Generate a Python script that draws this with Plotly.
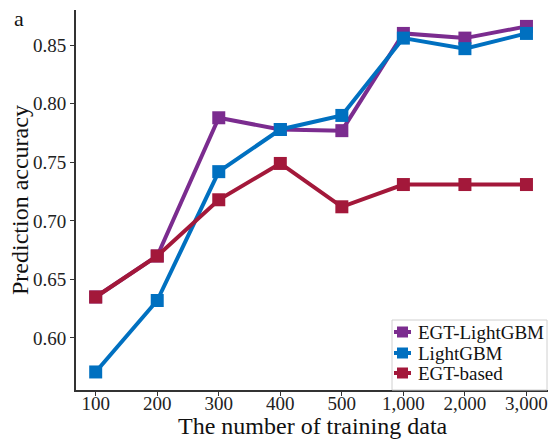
import plotly.graph_objects as go

categories = ["100", "200", "300", "400", "500", "1,000", "2,000", "3,000"]
egt_lightgbm = [0.635, 0.670, 0.788, 0.778, 0.777, 0.860, 0.856, 0.866]
lightgbm = [0.571, 0.632, 0.742, 0.778, 0.790, 0.856, 0.847, 0.860]
egt_based = [0.635, 0.670, 0.718, 0.749, 0.712, 0.731, 0.731, 0.731]

series = [
    ("EGT-LightGBM", egt_lightgbm, "#7B2C8F"),
    ("LightGBM", lightgbm, "#0070C0"),
    ("EGT-based", egt_based, "#A3183A"),
]

font = "Liberation Serif, Times New Roman, serif"
W, H = 552, 439
ML, MR, MT, MB = 76, 4, 10, 49
PW, PH = W - ML - MR, H - MT - MB


def px(xp):
    return (xp - ML) / PW


def py(yp):
    return (H - MB - yp) / PH


fig = go.Figure()
xs = list(range(len(categories)))
for name, vals, col in series:
    fig.add_trace(go.Scatter(
        x=xs, y=vals, name=name, mode="lines+markers",
        line=dict(color=col, width=4),
        marker=dict(symbol="square", size=13, color=col),
        showlegend=False,
    ))

fig.update_layout(
    width=W, height=H,
    margin=dict(l=ML, r=MR, t=MT, b=MB),
    plot_bgcolor="white", paper_bgcolor="white",
    font=dict(family=font, size=19, color="#222"),
    showlegend=False,
    xaxis=dict(
        tickmode="array", tickvals=xs, ticktext=categories,
        range=[-0.32, 7.35], showgrid=False, zeroline=False,
        showline=True, linecolor="#333", linewidth=2,
        ticks="outside", ticklen=4, tickcolor="#333",
        tickfont=dict(size=19, family=font), automargin=False,
        ticklabelstandoff=-9,
    ),
    yaxis=dict(
        range=[0.5556, 0.880], tickvals=[0.60, 0.65, 0.70, 0.75, 0.80, 0.85],
        tickformat=".2f", showgrid=False, zeroline=False,
        showline=True, linecolor="#333", linewidth=2,
        ticks="outside", ticklen=4, tickcolor="#333",
        tickfont=dict(size=19, family=font), automargin=False,
    ),
)

# axis titles
fig.add_annotation(text="The number of training data", xref="paper", yref="paper",
                   x=px(313), y=py(426), xanchor="center", yanchor="middle",
                   showarrow=False, font=dict(size=24, family=font, color="#111"))
fig.add_annotation(text="Prediction accuracy", xref="paper", yref="paper",
                   x=px(20), y=py(200), xanchor="center", yanchor="middle", textangle=-90,
                   showarrow=False, font=dict(size=24, family=font, color="#111"))
fig.add_annotation(text="a", xref="paper", yref="paper", x=px(19), y=py(19),
                   xanchor="center", yanchor="middle", showarrow=False,
                   font=dict(size=22, family=font, color="#111"))

# custom legend
fig.add_shape(type="rect", xref="paper", yref="paper",
              x0=px(392), x1=px(547), y0=py(390), y1=py(320),
              line=dict(color="#d0d0d0", width=1), fillcolor="white", layer="above")
rows = [332, 353, 373]
for (name, vals, col), ry in zip(series, rows):
    fig.add_shape(type="line", xref="paper", yref="paper",
                  x0=px(394), x1=px(411), y0=py(ry), y1=py(ry),
                  line=dict(color=col, width=4), layer="above")
    fig.add_shape(type="rect", xref="paper", yref="paper",
                  x0=px(397), x1=px(408), y0=py(ry + 5.5), y1=py(ry - 5.5),
                  line=dict(width=0), fillcolor=col, layer="above")
    fig.add_annotation(text=name, xref="paper", yref="paper",
                       x=px(416), y=py(ry), xanchor="left", yanchor="middle",
                       showarrow=False, font=dict(size=19, family=font, color="#111"))

fig.write_html("out.html")
